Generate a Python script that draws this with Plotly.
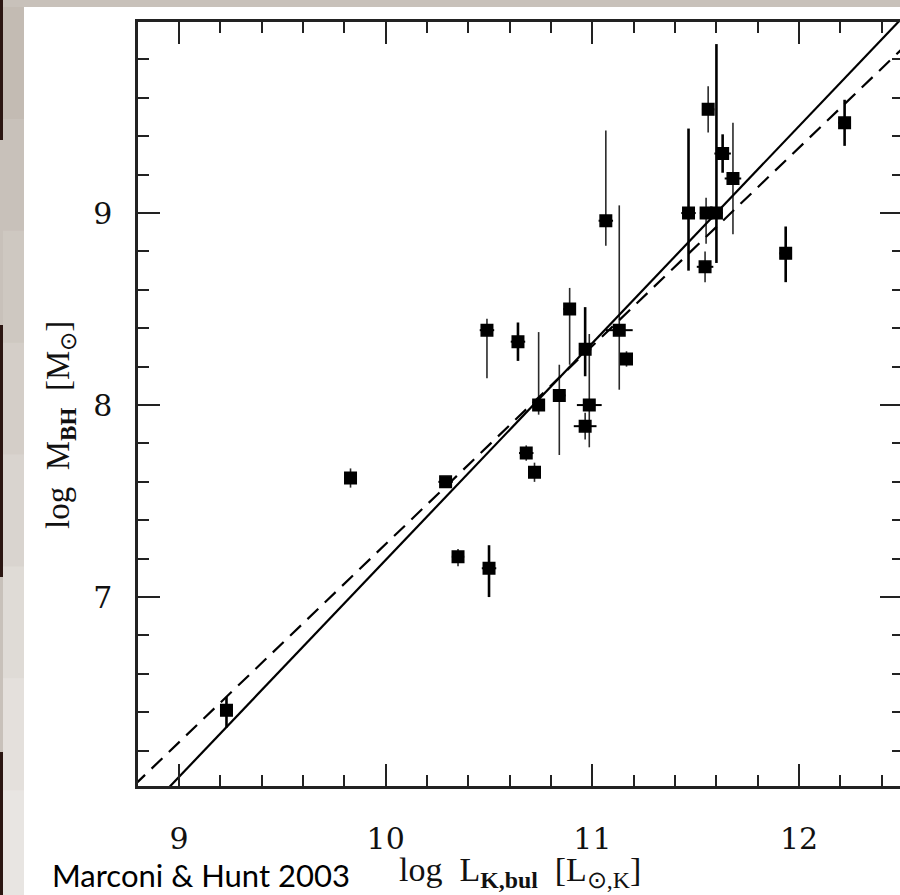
import plotly.graph_objects as go

# ---------------- data ----------------
# thick error-bar group
thick_x = [9.23, 10.50, 10.64, 10.965, 11.465, 11.60, 11.63, 11.935, 12.22]
thick_y = [6.41, 7.15, 8.33, 8.29, 9.00, 9.00, 9.31, 8.79, 9.47]
thick_eyp = [0.07, 0.12, 0.10, 0.22, 0.44, 0.88, 0.10, 0.14, 0.12]
thick_eym = [0.09, 0.15, 0.10, 0.14, 0.30, 0.26, 0.10, 0.15, 0.12]
thick_ex = [0.03, 0.035, 0.035, 0.03, 0.035, 0.03, 0.04, 0.03, 0.03]

# thin error-bar group
thin_x = [9.83, 10.29, 10.35, 10.49, 10.74, 10.84, 10.89, 10.985, 10.965,
          11.13, 11.165, 11.065, 11.56, 11.55, 11.68, 11.545, 10.68, 10.72]
thin_y = [7.62, 7.60, 7.21, 8.39, 8.00, 8.05, 8.50, 8.00, 7.89,
          8.39, 8.24, 8.96, 9.54, 9.00, 9.18, 8.72, 7.75, 7.65]
thin_eyp = [0.05, 0.02, 0.04, 0.06, 0.38, 0.16, 0.11, 0.37, 0.07,
            0.65, 0.04, 0.47, 0.12, 0.08, 0.29, 0.08, 0.04, 0.05]
thin_eym = [0.05, 0.02, 0.05, 0.25, 0.05, 0.31, 0.29, 0.22, 0.07,
            0.31, 0.04, 0.13, 0.12, 0.16, 0.29, 0.08, 0.04, 0.05]
thin_ex = [0.03, 0.035, 0.03, 0.035, 0.03, 0.03, 0.03, 0.06, 0.055,
           0.065, 0.03, 0.035, 0.03, 0.03, 0.04, 0.04, 0.035, 0.03]

# fits: log M = a + b (log L - 10.9)
fit_x = [8.70, 12.60]
solid_a, solid_b = 8.21, 1.13
dash_a, dash_b = 8.205, 1.0325

x_ticks = [9, 10, 11, 12]
x_ticklabels = ["9", "10", "11", "12"]
y_ticks = [7, 8, 9]
y_ticklabels = ["7", "8", "9"]

XRANGE = [8.802, 12.488]
YRANGE = [6.016, 9.995]

# ---------------- figure ----------------
W, H = 900, 895
ML, MR, MT, MB = 138, 0, 22, 109
PW, PH = W - ML - MR, H - MT - MB


def px2paper_x(px):
    return (px - ML) / PW


def py2paper_y(py):
    return (H - MB - py) / PH


fig = go.Figure()

for xs, ys, ep, em, ex, w, col in [
    (thin_x, thin_y, thin_eyp, thin_eym, thin_ex, 1.6, "#2a2a2a"),
    (thick_x, thick_y, thick_eyp, thick_eym, thick_ex, 2.6, "#000000"),
]:
    fig.add_trace(go.Scatter(
        x=xs, y=ys, mode="markers",
        marker=dict(symbol="square", size=11.5, color="black",
                    line=dict(width=1.5, color="black")),
        error_y=dict(type="data", symmetric=False, array=ep, arrayminus=em,
                     thickness=w, width=0, color=col),
        error_x=dict(type="data", array=ex, thickness=2, width=0,
                     color="black"),
        showlegend=False, hoverinfo="skip",
    ))

fig.add_trace(go.Scatter(
    x=fit_x, y=[solid_a + solid_b * (v - 10.9) for v in fit_x],
    mode="lines", line=dict(color="black", width=2.2),
    showlegend=False, hoverinfo="skip",
))
fig.add_trace(go.Scatter(
    x=fit_x, y=[dash_a + dash_b * (v - 10.9) for v in fit_x],
    mode="lines", line=dict(color="black", width=2.2, dash="15px,9px"),
    showlegend=False, hoverinfo="skip", yaxis="y2",
))

axis_font = dict(family="DejaVu Serif", size=30, color="#111")

fig.update_layout(
    width=W, height=H,
    margin=dict(l=ML, r=MR, t=MT, b=MB, pad=0),
    paper_bgcolor="#c8c1ba",
    plot_bgcolor="white",
    xaxis=dict(
        range=XRANGE, tickvals=x_ticks, ticktext=x_ticklabels,
        ticks="inside", ticklen=22, tickwidth=2, tickcolor="#222",
        minor=dict(dtick=0.2, tick0=0, ticks="inside", ticklen=11,
                   tickwidth=2, tickcolor="#222"),
        showline=True, linewidth=2.5, linecolor="#222", mirror="ticks",
        showgrid=False, zeroline=False, tickfont=axis_font,
        ticklabelstandoff=24,
    ),
    yaxis=dict(
        range=YRANGE, tickvals=y_ticks, ticktext=y_ticklabels,
        ticks="inside", ticklen=22, tickwidth=2, tickcolor="#222",
        minor=dict(dtick=0.2, tick0=0, ticks="inside", ticklen=11,
                   tickwidth=2, tickcolor="#222"),
        showline=True, linewidth=2.5, linecolor="#222", mirror=False,
        showgrid=False, zeroline=False, tickfont=axis_font,
        ticklabelstandoff=17,
    ),
    yaxis2=dict(
        range=YRANGE, overlaying="y", side="right",
        tickvals=y_ticks, showticklabels=False,
        ticks="inside", ticklen=20, tickwidth=2, tickcolor="#222",
        minor=dict(dtick=0.2, tick0=0, ticks="inside", ticklen=8,
                   tickwidth=2, tickcolor="#222"),
        showline=False, showgrid=False, zeroline=False,
    ),
)

# slide background: white panel, grey frame band, dark left strips
shapes = [
    dict(type="rect", xref="paper", yref="paper", layer="below",
         x0=px2paper_x(24), x1=px2paper_x(905), y0=py2paper_y(900),
         y1=py2paper_y(7), fillcolor="white", line=dict(width=0)),
]
band_cols = ["#c3bbb3", "#c8c1ba", "#cec8c1", "#d4cec8", "#d9d4cf",
             "#dfdbd6", "#e4e0dc", "#e8e5e2"]
seg = 895 / len(band_cols)
for i, c in enumerate(band_cols):
    shapes.append(dict(type="rect", xref="paper", yref="paper", layer="below",
                       x0=px2paper_x(3), x1=px2paper_x(24),
                       y0=py2paper_y(7 + i * seg + seg + 1),
                       y1=py2paper_y(7 + i * seg),
                       fillcolor=c, line=dict(width=0)))
for y0, y1 in [(0, 140), (325, 577), (752, 895)]:
    shapes.append(dict(type="rect", xref="paper", yref="paper", layer="below",
                       x0=px2paper_x(-2), x1=px2paper_x(3),
                       y0=py2paper_y(y1), y1=py2paper_y(y0),
                       fillcolor="#2b1612", line=dict(width=0)))
fig.update_layout(shapes=shapes)

fig.add_annotation(
    xref="paper", yref="paper", x=px2paper_x(520), y=py2paper_y(872),
    text="log  L<sub><b>K,bul</b></sub>  [L<sub>⊙,K</sub>]",
    showarrow=False, font=dict(family="Liberation Serif", size=34,
                               color="#111"),
    xanchor="center", yanchor="middle",
)
fig.add_annotation(
    xref="paper", yref="paper", x=px2paper_x(50), y=py2paper_y(875),
    text="Marconi &amp; Hunt 2003", showarrow=False,
    font=dict(family="Lato", size=31, color="black"),
    xanchor="left", yanchor="middle",
)
fig.add_annotation(
    xref="paper", yref="paper", x=px2paper_x(60), y=py2paper_y(425),
    text="log  M<sub><b>BH</b></sub>  [M<sub>⊙</sub>]", textangle=-90,
    showarrow=False, font=dict(family="Liberation Serif", size=33,
                               color="#111"),
    xanchor="center", yanchor="middle",
)

fig.write_html("out.html")
